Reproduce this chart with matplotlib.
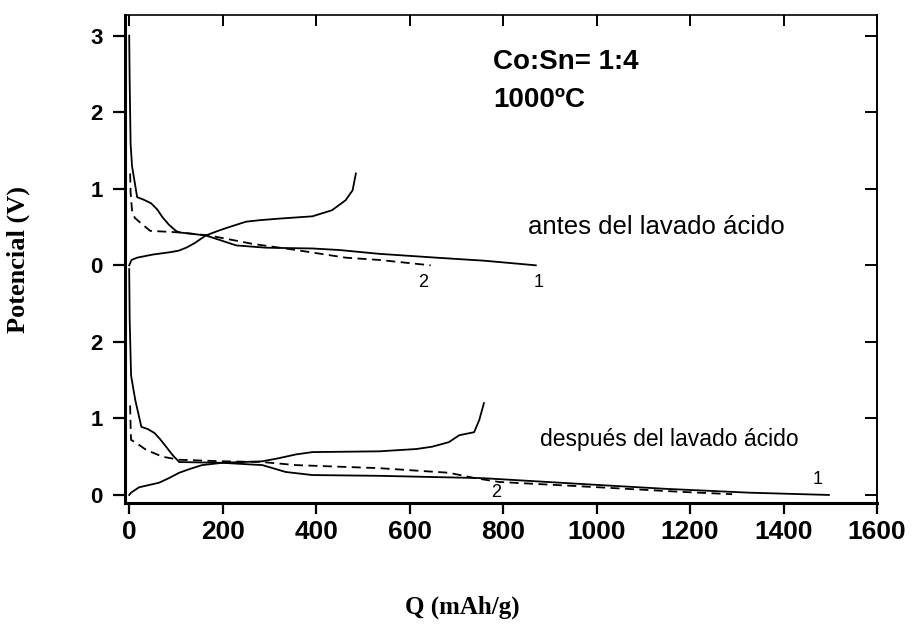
import matplotlib
matplotlib.use('Agg')
from matplotlib import pyplot as plt

# offset that stacks the "antes" curves above the "despues" curves
OFFSET = 3.0

# antes del lavado acido (top panel)
q_dis1_a = [0, 1, 3, 6, 13, 17, 30, 47, 60, 71, 85, 100, 107, 164, 229, 293, 392, 449, 535, 657, 760, 870]
v_dis1_a = [3.0, 2.4, 1.59, 1.3, 1.04, 0.89, 0.86, 0.81, 0.73, 0.63, 0.53, 0.45, 0.43, 0.39, 0.26, 0.23, 0.22, 0.20, 0.15, 0.10, 0.06, 0.0]
q_dis2_a = [2, 3, 6, 12, 25, 45, 107, 171, 264, 357, 463, 535, 645]
v_dis2_a = [1.2, 0.95, 0.72, 0.62, 0.55, 0.45, 0.43, 0.39, 0.28, 0.20, 0.10, 0.07, 0.0]
q_ch1_a = [0, 5, 17, 50, 86, 105, 122, 140, 164, 190, 214, 250, 280, 321, 392, 434, 463, 478, 485]
v_ch1_a = [0, 0.07, 0.10, 0.14, 0.17, 0.19, 0.23, 0.29, 0.39, 0.45, 0.50, 0.57, 0.59, 0.61, 0.64, 0.72, 0.85, 0.98, 1.2]

# despues del lavado acido (bottom panel)
q_dis1_d = [0, 1, 4, 13, 26, 40, 54, 66, 79, 93, 107, 199, 285, 335, 392, 535, 755, 1005, 1148, 1326, 1497]
v_dis1_d = [2.95, 2.3, 1.56, 1.24, 0.89, 0.86, 0.81, 0.73, 0.63, 0.52, 0.43, 0.42, 0.39, 0.30, 0.26, 0.25, 0.22, 0.13, 0.08, 0.03, 0.0]
q_dis2_d = [2, 3, 4, 15, 36, 71, 107, 199, 285, 357, 535, 684, 740, 791, 1005, 1183, 1290]
v_dis2_d = [1.17, 0.9, 0.72, 0.68, 0.59, 0.50, 0.46, 0.44, 0.43, 0.39, 0.35, 0.29, 0.22, 0.17, 0.10, 0.04, 0.01]
q_ch1_d = [0, 4, 21, 64, 85, 107, 130, 156, 199, 285, 320, 357, 392, 535, 614, 648, 684, 706, 738, 749, 759]
v_ch1_d = [0, 0.03, 0.10, 0.16, 0.22, 0.29, 0.34, 0.39, 0.42, 0.44, 0.48, 0.53, 0.56, 0.57, 0.60, 0.63, 0.69, 0.78, 0.82, 0.98, 1.2]

y_ticks = [0, 1, 2, 3, 4, 5, 6]
y_tick_labels = ['0', '1', '2', '0', '1', '2', '3']
x_ticks = [0, 200, 400, 600, 800, 1000, 1200, 1400, 1600]

plt.rcParams['font.family'] = ['Liberation Sans', 'DejaVu Sans']

fig = plt.figure(figsize=(9.15, 6.25), dpi=100)
ax = fig.add_axes([0.1366, 0.1952, 0.8219, 0.7808])

lw = 1.3
dash = (0, (5, 3))
ax.plot(q_dis1_a, [v + OFFSET for v in v_dis1_a], color='black', lw=lw)
ax.plot(q_dis2_a, [v + OFFSET for v in v_dis2_a], color='black', lw=lw, linestyle=dash)
ax.plot(q_ch1_a, [v + OFFSET for v in v_ch1_a], color='black', lw=lw)
ax.plot(q_dis1_d, v_dis1_d, color='black', lw=lw)
ax.plot(q_dis2_d, v_dis2_d, color='black', lw=lw, linestyle=dash)
ax.plot(q_ch1_d, v_ch1_d, color='black', lw=lw)

ax.set_xlim(-9, 1600)
ax.set_ylim(-0.105, 6.27)

ax.set_xticks(x_ticks)
ax.set_xticklabels([str(t) for t in x_ticks], fontsize=19, fontweight='bold')
ax.set_yticks(y_ticks)
ax.set_yticklabels(y_tick_labels, fontsize=16, fontweight='bold')
ax.tick_params(axis='x', which='major', direction='out', length=8, width=1.6, pad=4)
ax.tick_params(axis='y', which='major', direction='out', length=9, width=1.6, pad=7)
ax.tick_params(top=True, right=True)
# inward ticks on top and right
for t in ax.xaxis.get_major_ticks():
    t.tick2line.set_marker(3)  # TICKDOWN
    t.tick2line.set_markersize(8)
    t.tick2line.set_markeredgewidth(1.4)
for t in ax.yaxis.get_major_ticks():
    t.tick2line.set_marker(0)  # TICKLEFT
    t.tick2line.set_markersize(9)
    t.tick2line.set_markeredgewidth(1.4)

ax.spines['left'].set_linewidth(2.2)
ax.spines['bottom'].set_linewidth(2.2)
ax.spines['top'].set_linewidth(1.2)
ax.spines['right'].set_linewidth(1.4)

ax.text(779, 5.65, 'Co:Sn= 1:4', fontsize=20, fontweight='bold', va='center', ha='left')
ax.text(779, 5.16, '1000ºC', fontsize=20, fontweight='bold', va='center', ha='left')
ax.text(853, 3.50, 'antes del lavado ácido', fontsize=18.5, va='center', ha='left')
ax.text(629, 2.77, '2', fontsize=13, va='center', ha='center')
ax.text(875, 2.77, '1', fontsize=13, va='center', ha='center')
ax.text(879, 0.72, 'después del lavado ácido', fontsize=16.5, va='center', ha='left')
ax.text(1472, 0.20, '1', fontsize=13, va='center', ha='center')
ax.text(785, 0.03, '2', fontsize=13, va='center', ha='center')

fig.text(462 / 915, 1 - 607 / 625, 'Q (mAh/g)', fontsize=18, fontweight='bold',
         family=['Liberation Serif', 'DejaVu Serif'], ha='center', va='center')
fig.text(18 / 915, 1 - 260 / 625, 'Potencial (V)', fontsize=19, fontweight='bold',
         family=['Liberation Serif', 'DejaVu Serif'], ha='center', va='center', rotation=90)

fig.savefig('out.png', dpi=100)
